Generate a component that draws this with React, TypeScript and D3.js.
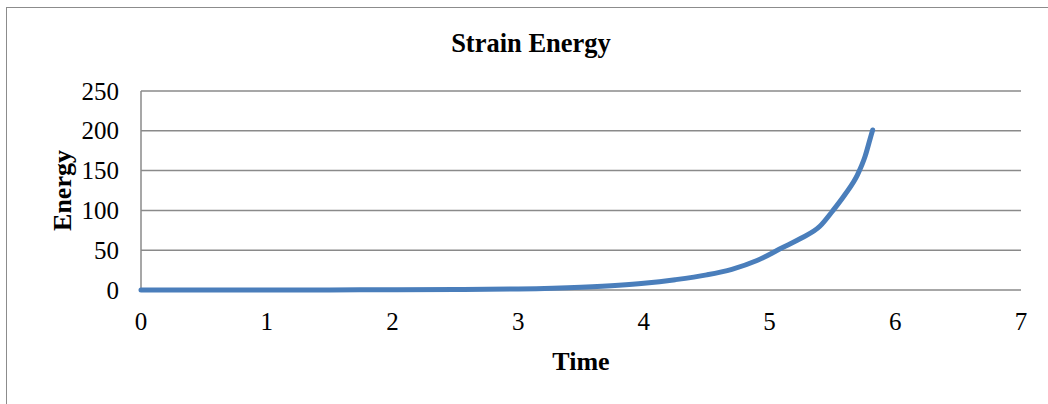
import React from "react";
import * as d3 from "d3";

// Strain energy over time
const times = [0, 0.5, 1, 1.5, 2, 2.5, 3, 3.5, 3.8, 4, 4.25, 4.5, 4.7, 4.9, 5.1, 5.25, 5.4, 5.5, 5.6, 5.7, 5.76, 5.8, 5.82];
const energy = [0, 0, 0, 0.1, 0.3, 0.6, 1.3, 3.5, 6, 8.5, 13, 19, 26, 37, 53, 65, 80, 99, 120, 145, 168, 190, 201];
const xTicks = [0, 1, 2, 3, 4, 5, 6, 7];
const yTicks = [0, 50, 100, 150, 200, 250];

const W = 1048;
const H = 404;
const margin = { left: 141, right: 27, top: 91, bottom: 114 };
const font = "'Liberation Serif', 'Times New Roman', serif";

export default function App() {
  const x = d3.scaleLinear().domain([0, 7]).range([margin.left, W - margin.right]);
  const y = d3.scaleLinear().domain([0, 250]).range([H - margin.bottom, margin.top]);
  const pts = times.map((t, i) => [t, energy[i]] as [number, number]);
  const line = d3
    .line<[number, number]>()
    .x((d) => x(d[0]))
    .y((d) => y(d[1]))
    .curve(d3.curveMonotoneX);

  return (
    <svg
      width={W}
      height={H}
      style={{ position: "absolute", left: 0, top: 0, background: "#fff" }}
      fontFamily={font}
    >
      <rect x={6.5} y={7.5} width={1100} height={600} fill="#fff" stroke="#8c8c8c" strokeWidth={1} />
      <text x={531} y={52} textAnchor="middle" fontSize={26.5} fontWeight="bold">
        Strain Energy
      </text>
      {yTicks.map((t) => (
        <g key={t}>
          {t > 0 && (
            <line x1={x(0)} x2={x(7)} y1={y(t)} y2={y(t)} stroke="#8a8a8a" strokeWidth={1.5} />
          )}
          <text x={119} y={y(t) + 8.5} textAnchor="end" fontSize={25}>
            {t}
          </text>
        </g>
      ))}
      <line x1={x(0)} x2={x(0)} y1={y(0)} y2={y(250)} stroke="#8a8a8a" strokeWidth={1.5} />
      <line x1={x(0)} x2={x(7)} y1={y(0)} y2={y(0)} stroke="#8a8a8a" strokeWidth={1.5} />
      {xTicks.map((t) => (
        <text key={t} x={x(t)} y={330} textAnchor="middle" fontSize={25}>
          {t}
        </text>
      ))}
      <text x={581} y={370} textAnchor="middle" fontSize={26} fontWeight="bold">
        Time
      </text>
      <text
        transform={`translate(71,${(y(0) + y(250)) / 2}) rotate(-90)`}
        textAnchor="middle"
        fontSize={26}
        fontWeight="bold"
      >
        Energy
      </text>
      <path
        d={line(pts) || ""}
        fill="none"
        stroke="#4a7ebb"
        strokeWidth={5}
        strokeLinecap="round"
        strokeLinejoin="round"
      />
    </svg>
  );
}
